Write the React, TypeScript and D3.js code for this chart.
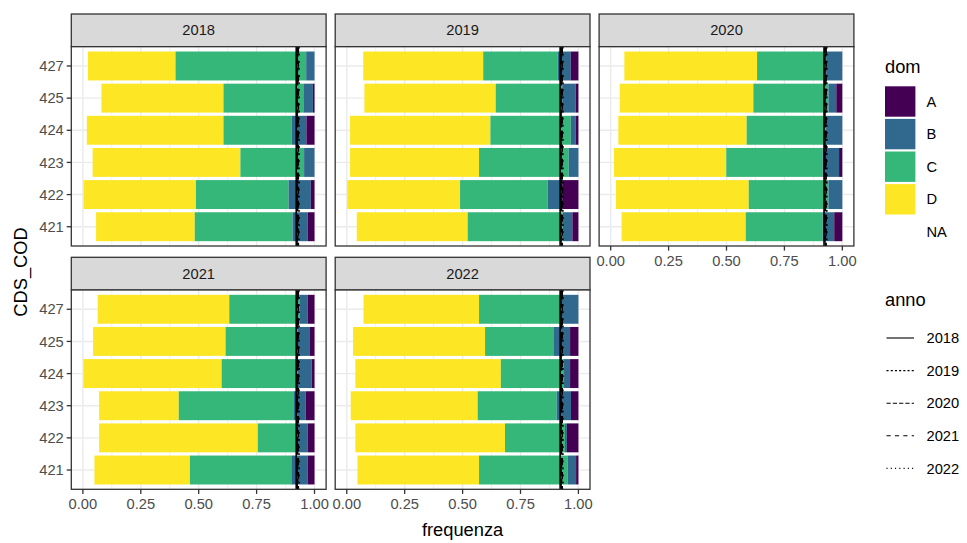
import * as d3 from 'd3';

// facet years, categories (top to bottom as drawn), stacking keys (left to right)
const years = ['2018', '2019', '2020', '2021', '2022'];
const cats = ['427', '425', '424', '423', '422', '421'];
const doms = ['NA', 'D', 'C', 'B', 'A'];
const domLegend = ['A', 'B', 'C', 'D', 'NA'];
const domColors: Record<string, string> = { A: '#440154', B: '#31688E', C: '#35B779', D: '#FDE725', NA: 'none' };

// shares per category, columns in `doms` order: NA, D, C, B, A
const share2018 = [
  [0.022, 0.378, 0.564, 0.036, 0.0],
  [0.08, 0.527, 0.345, 0.041, 0.007],
  [0.017, 0.59, 0.295, 0.063, 0.035],
  [0.042, 0.638, 0.275, 0.045, 0.0],
  [0.003, 0.485, 0.4, 0.096, 0.016],
  [0.057, 0.426, 0.422, 0.066, 0.029],
];
const share2019 = [
  [0.071, 0.518, 0.321, 0.057, 0.033],
  [0.076, 0.567, 0.287, 0.058, 0.012],
  [0.014, 0.606, 0.347, 0.021, 0.012],
  [0.014, 0.557, 0.387, 0.042, 0.0],
  [0.002, 0.487, 0.378, 0.063, 0.07],
  [0.043, 0.479, 0.41, 0.042, 0.026],
];
const share2020 = [
  [0.059, 0.573, 0.298, 0.07, 0.0],
  [0.039, 0.577, 0.324, 0.034, 0.026],
  [0.033, 0.554, 0.343, 0.07, 0.0],
  [0.014, 0.485, 0.416, 0.071, 0.014],
  [0.023, 0.573, 0.344, 0.06, 0.0],
  [0.047, 0.536, 0.332, 0.05, 0.035],
];
const share2021 = [
  [0.064, 0.568, 0.303, 0.036, 0.029],
  [0.044, 0.572, 0.31, 0.052, 0.022],
  [0.002, 0.597, 0.327, 0.062, 0.012],
  [0.07, 0.344, 0.495, 0.053, 0.038],
  [0.07, 0.685, 0.171, 0.045, 0.029],
  [0.05, 0.412, 0.438, 0.071, 0.029],
];
const share2022 = [
  [0.072, 0.499, 0.357, 0.072, 0.0],
  [0.027, 0.57, 0.295, 0.072, 0.036],
  [0.037, 0.628, 0.27, 0.029, 0.036],
  [0.017, 0.548, 0.341, 0.062, 0.032],
  [0.037, 0.646, 0.259, 0.008, 0.05],
  [0.046, 0.525, 0.383, 0.036, 0.01],
];
const shares = [share2018, share2019, share2020, share2021, share2022];

// reference lines, one per anno
const vlineX = [0.921, 0.927, 0.925, 0.93, 0.933];
const vlineDash = ['', '3.5,3.5', '7,3.5', '7,7', '1.8,5.3'];

const W = 967;
const H = 543;
const font = '"Liberation Sans", Arial, sans-serif';
const left0 = 71.3;
const panelW = 254.8;
const panelH = 199.3;
const gapX = 9.1;
const stripH = 32.7;
const rowTop = [14, 257.3];

const x = d3.scaleLinear().domain([-0.05, 1.05]).range([0, panelW]);
const y = d3.scaleBand().domain(cats).range([0, panelH]).paddingInner(0.1).paddingOuter(0.15);
const majorTicks = [0, 0.25, 0.5, 0.75, 1];
const minorTicks = d3.pairs(majorTicks).map(([a, b]) => (a + b) / 2);
const fmt = d3.format('.2f');

const stack = d3.stack<number[]>()
  .keys(doms.map((_, i) => String(i)))
  .value((row, k) => row[+k])
  .offset(d3.stackOffsetExpand);

function Panel({ idx }: { idx: number }) {
  const col = idx % 3;
  const row = Math.floor(idx / 3);
  const px = left0 + col * (panelW + gapX);
  const sy = rowTop[row];
  const py = sy + stripH;
  const series = stack(shares[idx]);
  const showX = idx >= 2;
  const showY = col === 0;
  return (
    <g>
      <rect x={px} y={sy} width={panelW} height={stripH} fill="#D9D9D9" stroke="#333333" strokeWidth={1.3} />
      <text x={px + panelW / 2} y={sy + stripH / 2} dy="0.35em" textAnchor="middle" fontSize={14.7} fill="#1A1A1A">
        {years[idx]}
      </text>
      <g transform={`translate(${px},${py})`}>
        <rect width={panelW} height={panelH} fill="#fff" />
        {minorTicks.map(t => (
          <line key={'mn' + t} x1={x(t)} x2={x(t)} y1={0} y2={panelH} stroke="#EBEBEB" strokeWidth={0.8} />
        ))}
        {majorTicks.map(t => (
          <line key={'mj' + t} x1={x(t)} x2={x(t)} y1={0} y2={panelH} stroke="#EBEBEB" strokeWidth={1.4} />
        ))}
        {cats.map(c => (
          <line key={'h' + c} x1={0} x2={panelW} y1={y(c)! + y.bandwidth() / 2} y2={y(c)! + y.bandwidth() / 2} stroke="#EBEBEB" strokeWidth={1.4} />
        ))}
        {series.map((s, si) =>
          s.map((d, ci) => (
            <rect
              key={si + '-' + ci}
              x={x(d[0])}
              y={y(cats[ci])}
              width={Math.max(0, x(d[1]) - x(d[0]))}
              height={y.bandwidth()}
              fill={domColors[doms[si]]}
            />
          ))
        )}
        {vlineX.map((v, i) => (
          <line key={'v' + i} x1={x(v)} x2={x(v)} y1={0} y2={panelH} stroke="#000" strokeWidth={1.6} strokeDasharray={vlineDash[i] || undefined} />
        ))}
        <rect width={panelW} height={panelH} fill="none" stroke="#333333" strokeWidth={1.3} />
        {showY && cats.map(c => (
          <g key={'yt' + c} transform={`translate(0,${y(c)! + y.bandwidth() / 2})`}>
            <line x1={-4.6} x2={0} stroke="#333333" strokeWidth={1.3} />
            <text x={-7.5} dy="0.35em" textAnchor="end" fontSize={14.7} fill="#4D4D4D">{c}</text>
          </g>
        ))}
        {showX && majorTicks.map(t => (
          <g key={'xt' + t} transform={`translate(${x(t)},${panelH})`}>
            <line y1={0} y2={4.6} stroke="#333333" strokeWidth={1.3} />
            <text y={8.5} dy="0.75em" textAnchor="middle" fontSize={14.7} fill="#4D4D4D">{fmt(t)}</text>
          </g>
        ))}
      </g>
    </g>
  );
}

export default function App() {
  const legX = 885;
  const keyStep = 32.6;
  return (
    <svg width={W} height={H} style={{ position: 'absolute', left: 0, top: 0, background: '#fff' }} fontFamily={font}>
      <rect width={W} height={H} fill="#fff" />
      {years.map((_, i) => <Panel key={i} idx={i} />)}

      <text x={462.6} y={536} textAnchor="middle" fontSize={18.3} fill="#000">frequenza</text>
      <text transform="translate(27,272) rotate(-90)" textAnchor="middle" fontSize={18.3} fill="#000">CDS_COD</text>

      <text x={legX} y={73} fontSize={18.3} fill="#000">dom</text>
      {domLegend.map((d, i) => {
        const cy = 101.5 + i * keyStep;
        return (
          <g key={d}>
            {d !== 'NA' && <rect x={legX} y={cy - 15.2} width={30.4} height={30.4} fill={domColors[d]} />}
            <text x={legX + 41.5} y={cy} dy="0.35em" fontSize={14.7} fill="#000">{d}</text>
          </g>
        );
      })}

      <text x={legX} y={306} fontSize={18.3} fill="#000">anno</text>
      {years.map((yr, i) => {
        const cy = 338 + i * keyStep;
        return (
          <g key={yr}>
            <line x1={legX + 1.5} x2={legX + 29} y1={cy} y2={cy} stroke="#000" strokeWidth={1.1} strokeDasharray={vlineDash[i] ? vlineDash[i].split(',').map(v => +v * 0.6).join(',') : undefined} />
            <text x={legX + 41.5} y={cy} dy="0.35em" fontSize={14.7} fill="#000">{yr}</text>
          </g>
        );
      })}
    </svg>
  );
}
